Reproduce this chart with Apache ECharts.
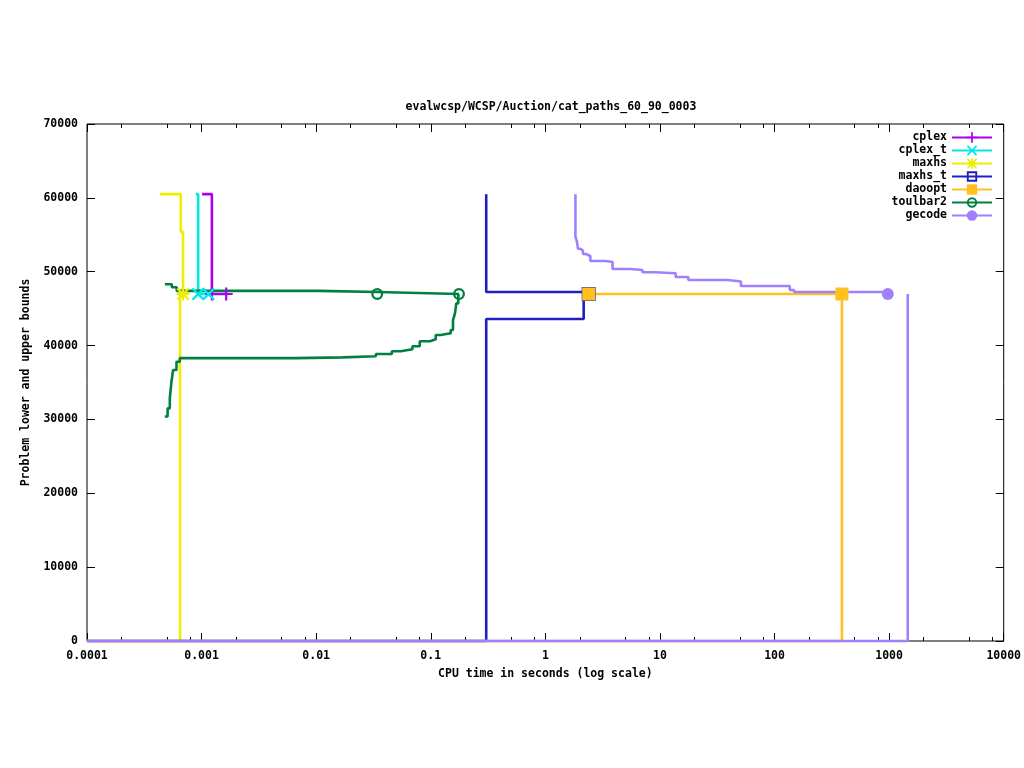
<!DOCTYPE html>
<html>
<head>
<meta charset="utf-8">
<script src="https://cdn.jsdelivr.net/npm/echarts/dist/echarts.min.js"></script>
<style>html,body{margin:0;padding:0;background:#fff}#c{width:1024px;height:768px}</style>
</head>
<body>
<div id="c"></div>
<script>
// ---- axis ticks / labels ----
const xMajor = [0.0001, 0.001, 0.01, 0.1, 1, 10, 100, 1000, 10000];
const xMajorLabels = ['0.0001', '0.001', '0.01', '0.1', '1', '10', '100', '1000', '10000'];
const xMinorMult = [2, 5, 8];
const yTicks = [0, 10000, 20000, 30000, 40000, 50000, 60000, 70000];
const solverNames = ['cplex', 'cplex_t', 'maxhs', 'maxhs_t', 'daoopt', 'toulbar2', 'gecode'];

// ---- data: (time, value) step points, value holds from time onward ----
const cplexUpT = [0.00101, 0.00123, 0.00164];
const cplexUpV = [60500, 46980, 46980];
const cplexMarks = [0.00123, 0.00164];

const cplexTUpT = [0.00089, 0.000934, 0.00115];
const cplexTUpV = [60500, 46980, 46980];
const cplexTMarks = [0.000934, 0.00115];

const maxhsUpT = [0.000432, 0.000658, 0.000689];
const maxhsUpV = [60500, 55400, 46980];
const maxhsLoT = [0.0001, 0.000649, 0.000689];
const maxhsLoV = [0, 46980, 46980];
const maxhsMarks = [0.000689];

const maxhsTUpT = [0.3048, 0.3048, 2.16, 2.39];
const maxhsTUpV = [60500, 47250, 46980, 46980];
const maxhsTLoT = [0.0001, 0.3048, 2.16, 2.39];
const maxhsTLoV = [0, 43600, 46980, 46980];
const maxhsTMarks = [2.39];

const daooptUpT = [2.39, 387.6];
const daooptUpV = [46980, 46980];
const daooptLoT = [0.0001, 387.6];
const daooptLoV = [0, 46980];
const daooptMarks = [2.39, 387.6];

const toulbarUpT = [0.000478, 0.000550, 0.000607, 0.01067, 0.0341, 0.1763];
const toulbarUpV = [48300, 47900, 47400, 47250, 46980, 46980];
const toulbarLoT = [0.000478, 0.000505, 0.000528, 0.000545, 0.000564, 0.000604, 0.000645, 0.00668, 0.0170, 0.0332, 0.0458, 0.0548, 0.0692, 0.0802, 0.0986, 0.1105, 0.1222, 0.1493, 0.1563, 0.1627, 0.1670, 0.1739, 0.1763];
const toulbarLoV = [30400, 31500, 32900, 35000, 36700, 37800, 38300, 38400, 38550, 38860, 39230, 39500, 39900, 40580, 40850, 41430, 41660, 42110, 43460, 44370, 45720, 46850, 46980];
const toulbarMarks = [0.0341, 0.1763];

const gecodeUpT = [1.83, 1.83, 1.888, 1.926, 2.021, 2.128, 2.261, 2.470, 3.336, 3.860, 5.503, 7.042, 9.08, 13.72, 17.70, 38.9, 50.9, 135.9, 148.1, 974.4];
const gecodeUpV = [60500, 54740, 54065, 53100, 52850, 52400, 52130, 51450, 51310, 50370, 50230, 49920, 49790, 49290, 48880, 48680, 48070, 47525, 47250, 46980];
const gecodeLoT = [0.0001, 1454];
const gecodeLoV = [0, 46980];
const gecodeMarks = [974.4];

// ---- styles ----
const colors = {
  cplex: '#aa00ee', cplex_t: '#00e8e8', maxhs: '#eeee00', maxhs_t: '#2020c0',
  daoopt: '#ffc020', toulbar2: '#008040', gecode: '#a080ff'
};
const SYM_PLUS = 'path://M5,0H7V5H12V7H7V12H5V7H0V5H5Z';
const SYM_X = 'path://M0,1.5L1.5,0L6,4.5L10.5,0L12,1.5L7.5,6L12,10.5L10.5,12L6,7.5L1.5,12L0,10.5L4.5,6Z';
const SYM_STAR = 'path://M5,0H7V5H12V7H7V12H5V7H0V5H5Z M0,1.5L1.5,0L6,4.5L10.5,0L12,1.5L7.5,6L12,10.5L10.5,12L6,7.5L1.5,12L0,10.5L4.5,6Z';
const SYM_RSQ = 'path://M0,0H12V12H0Z M2.2,2.2V9.8H9.8V2.2Z';
const SYM_RCIRC = 'path://M6,0A6,6 0 1,1 6,12A6,6 0 1,1 6,0Z M6,2.3A3.7,3.7 0 1,0 6,9.7A3.7,3.7 0 1,0 6,2.3Z';
const symbols = {
  cplex: [SYM_PLUS, 13], cplex_t: [SYM_X, 13], maxhs: [SYM_STAR, 13], maxhs_t: [SYM_RSQ, 14],
  daoopt: ['rect', 13], toulbar2: [SYM_RCIRC, 12], gecode: ['circle', 12]
};

function mkData(T, V, marks) {
  return T.map((t, i) => {
    const item = { value: [t, V[i]] };
    if (!marks || marks.indexOf(t) < 0 || (i + 1 < T.length && T[i + 1] === t && V[i + 1] !== V[i])) item.symbol = 'none';
    return item;
  });
}
const series = [];
function addLine(name, T, V, marks) {
  series.push({
    name: name, type: 'line', step: 'end', clip: false,
    xAxisIndex: 0, yAxisIndex: 0,
    data: mkData(T, V, marks),
    symbol: symbols[name][0], symbolSize: symbols[name][1],
    showAllSymbol: true,
    lineStyle: { color: colors[name], width: 2.6 },
    itemStyle: { color: colors[name], borderWidth: 0 },
    emphasis: { disabled: true }
  });
}
addLine('cplex', cplexUpT, cplexUpV, cplexMarks);
addLine('cplex_t', cplexTUpT, cplexTUpV, cplexTMarks);
addLine('maxhs', maxhsUpT, maxhsUpV, maxhsMarks);
addLine('maxhs', maxhsLoT, maxhsLoV, null);
addLine('maxhs_t', maxhsTUpT, maxhsTUpV, maxhsTMarks);
addLine('maxhs_t', maxhsTLoT, maxhsTLoV, null);
addLine('daoopt', daooptUpT, daooptUpV, daooptMarks);
addLine('daoopt', daooptLoT, daooptLoV, null);
addLine('toulbar2', toulbarUpT, toulbarUpV, toulbarMarks);
addLine('toulbar2', toulbarLoT, toulbarLoV, null);
addLine('gecode', gecodeUpT, gecodeUpV, gecodeMarks);
addLine('gecode', gecodeLoT, gecodeLoV, null);

const xMinor = [];
for (let i = 0; i < xMajor.length - 1; i++) xMinorMult.forEach(m => xMinor.push(m * xMajor[i]));

const FONT = 'DejaVu Sans Mono';
const txt = { fontFamily: FONT, fontSize: 11.5, fontWeight: 'bold', color: '#000' };

function xAx(pos, ticks, len, labels) {
  return {
    type: 'log', logBase: 10, min: 0.0001, max: 10000, position: pos,
    axisLine: { show: false }, splitLine: { show: false },
    axisTick: { show: true, inside: true, length: len, customValues: ticks, lineStyle: { color: '#000', width: 1 } },
    axisLabel: labels ? {
      show: true, customValues: xMajor, margin: 9, ...txt,
      formatter: v => xMajorLabels[Math.round(Math.log10(v)) + 4]
    } : { show: false },
    name: labels ? 'CPU time in seconds (log scale)' : '',
    nameLocation: 'middle', nameGap: 27, nameTextStyle: txt
  };
}
function yAx(pos, labels) {
  return {
    type: 'value', min: 0, max: 70000, interval: 10000, position: pos,
    axisLine: { show: false }, splitLine: { show: false },
    axisTick: { show: true, inside: true, length: 8, lineStyle: { color: '#000' } },
    axisLabel: labels ? { show: true, margin: 9, ...txt, formatter: v => String(v) } : { show: false },
    name: labels ? 'Problem lower and upper bounds' : '',
    nameLocation: 'middle', nameGap: 53, nameRotate: 90, nameTextStyle: txt
  };
}

const chart = echarts.init(document.getElementById('c'), null, { renderer: 'canvas' });
chart.setOption({
  animation: false,
  backgroundColor: '#fff',
  title: { text: 'evalwcsp/WCSP/Auction/cat_paths_60_90_0003', left: 546, top: 96, textAlign: 'center', textStyle: txt },
  grid: { left: 87, right: 18, top: 124, bottom: 127, show: true, borderColor: '#000', borderWidth: 1, containLabel: false },
  legend: {
    data: solverNames, orient: 'vertical', right: 31, top: 131, align: 'right', padding: 0,
    itemWidth: 40, itemHeight: 13, itemGap: 0,
    textStyle: { ...txt, lineHeight: 13 },
    selectedMode: false
  },
  xAxis: [xAx('bottom', xMajor, 8, true), xAx('bottom', xMinor, 4, false), xAx('top', xMajor, 8, false), xAx('top', xMinor, 4, false)],
  yAxis: [yAx('left', true), yAx('right', false)],
  series: series
});
</script>
</body>
</html>
